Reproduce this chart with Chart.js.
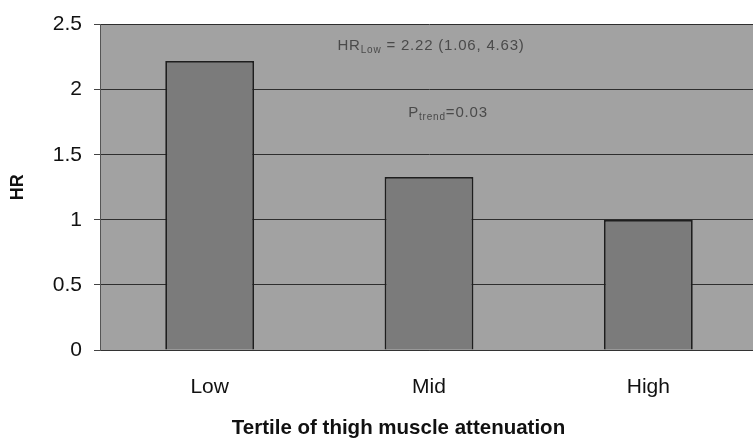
<!DOCTYPE html>
<html>
<head>
<meta charset="utf-8">
<script src="https://cdn.jsdelivr.net/npm/chart.js@4/dist/chart.umd.min.js"></script>
<style>
html,body{margin:0;padding:0;background:#fff;overflow:hidden;}
#wrap{width:753px;height:442px;position:relative;overflow:hidden;}
</style>
</head>
<body>
<div id="wrap"><canvas id="c" width="758" height="442"></canvas></div>
<script>
const categories = ['Low', 'Mid', 'High'];
const hrValues = [2.22, 1.33, 1.0];
const yTickValues = [0, 0.5, 1, 1.5, 2, 2.5];
const annotHR = {main: 'HR', sub: 'Low', rest: ' = 2.22 (1.06, 4.63)'};
const annotP = {main: 'P', sub: 'trend', rest: '=0.03'};
const xTitle = 'Tertile of thigh muscle attenuation';

const FONT = "'Liberation Sans', Arial, Helvetica, sans-serif";

const bgPlugin = {
  id: 'plotBg',
  beforeDraw(chart) {
    const {ctx, chartArea: a} = chart;
    ctx.save();
    ctx.fillStyle = '#a2a2a2';
    ctx.fillRect(a.left, a.top, a.right - a.left, a.bottom - a.top);
    ctx.restore();
  }
};

function drawSubText(ctx, cx, cy, t, size, subSize) {
  ctx.letterSpacing = '0.8px';
  ctx.font = size + 'px ' + FONT;
  const w1 = ctx.measureText(t.main).width;
  const w3 = ctx.measureText(t.rest).width;
  ctx.font = subSize + 'px ' + FONT;
  const w2 = ctx.measureText(t.sub).width;
  let x = cx - (w1 + w2 + w3) / 2;
  ctx.textBaseline = 'alphabetic';
  ctx.textAlign = 'left';
  ctx.font = size + 'px ' + FONT;
  ctx.fillText(t.main, x, cy);
  x += w1;
  ctx.font = subSize + 'px ' + FONT;
  ctx.fillText(t.sub, x, cy + 3);
  x += w2;
  ctx.font = size + 'px ' + FONT;
  ctx.fillText(t.rest, x, cy);
}

const annotPlugin = {
  id: 'annot',
  afterDraw(chart) {
    const {ctx} = chart;
    ctx.save();
    ctx.fillStyle = '#4a4a4a';
    drawSubText(ctx, 431, 50, annotHR, 15, 10);
    drawSubText(ctx, 448, 117, annotP, 15, 10);
    ctx.restore();
    ctx.save();
    ctx.fillStyle = '#111';
    ctx.font = 'bold 20.5px ' + FONT;
    ctx.textAlign = 'center';
    ctx.textBaseline = 'middle';
    ctx.fillText(xTitle, 398.5, 428);
    ctx.restore();
  }
};

new Chart(document.getElementById('c'), {
  type: 'bar',
  data: {
    labels: categories,
    datasets: [{
      data: hrValues,
      backgroundColor: '#7b7b7b',
      borderColor: '#1e1e1e',
      borderWidth: 1.8,
      categoryPercentage: 1.0,
      barPercentage: 0.405
    }]
  },
  options: {
    responsive: false,
    animation: false,
    devicePixelRatio: 1,
    layout: {padding: {top: 23, right: 0, bottom: 0, left: 0}},
    plugins: {legend: {display: false}, tooltip: {enabled: false}},
    scales: {
      x: {
        grid: {display: false},
        border: {display: true, color: '#333', width: 1},
        ticks: {
          color: '#111',
          font: {family: FONT, size: 21},
          padding: 17
        },
        title: {display: false},
        afterFit(s) { s.height = 92; }
      },
      y: {
        min: 0,
        max: 2.5,
        afterBuildTicks(s) { s.ticks = yTickValues.map(v => ({value: v})); },
        grid: {
          color: '#2e2e2e',
          lineWidth: 1,
          drawTicks: true,
          tickLength: 6,
          tickColor: '#444'
        },
        border: {display: true, color: '#555', width: 1},
        ticks: {
          color: '#111',
          font: {family: FONT, size: 21},
          padding: 12,
          callback: v => String(v)
        },
        title: {
          display: true,
          text: 'HR',
          color: '#111',
          font: {family: FONT, size: 18, weight: 'bold'},
          padding: {top: 7, bottom: 0}
        },
        afterFit(s) { s.width = 100; }
      }
    }
  },
  plugins: [bgPlugin, annotPlugin]
});
</script>
</body>
</html>
